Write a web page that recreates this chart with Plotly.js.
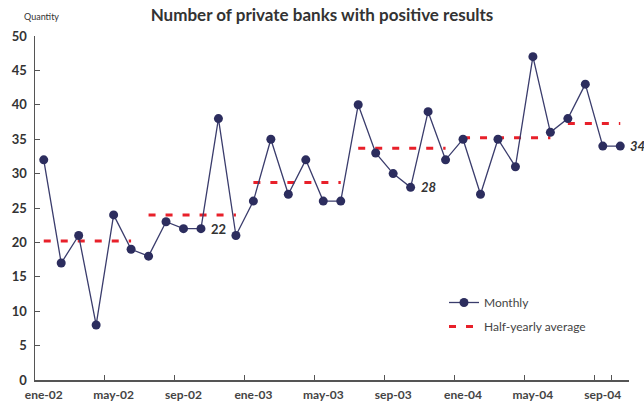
<!DOCTYPE html>
<html>
<head>
<meta charset="utf-8">
<script src="https://cdn.plot.ly/plotly-3.0.1.min.js"></script>
<style>html,body{margin:0;padding:0;background:#fff;}#chart{width:644px;height:407px;}</style>
</head>
<body>
<div id="chart"></div>
<script>
// Data
const months = ["ene-02","feb-02","mar-02","abr-02","may-02","jun-02","jul-02","ago-02","sep-02","oct-02","nov-02","dic-02",
                "ene-03","feb-03","mar-03","abr-03","may-03","jun-03","jul-03","ago-03","sep-03","oct-03","nov-03","dic-03",
                "ene-04","feb-04","mar-04","abr-04","may-04","jun-04","jul-04","ago-04","sep-04","oct-04"];
const monthly = [32,17,21,8,24,19,18,23,22,22,38,21,
                 26,35,27,32,26,26,40,33,30,28,39,32,
                 35,27,35,31,47,36,38,43,34,34];
const halfStart = ["ene-02","jul-02","ene-03","jul-03","ene-04","jul-04"];
const halfEnd   = ["jun-02","dic-02","jun-03","dic-03","jun-04","oct-04"];
const halfAvg   = [20.2, 24.0, 28.7, 33.7, 35.2, 37.3];
const tickLabels = ["ene-02","may-02","sep-02","ene-03","may-03","sep-03","ene-04","may-04","sep-04"];
const labelPoints = ["oct-02","oct-03","oct-04"];
const labelTexts = ["22","28","34"];

const font = "Lato, 'Open Sans', sans-serif";
const navy = "#2c2d5e";
const red = "#e8202a";

const traces = [];
halfAvg.forEach((v, i) => {
  traces.push({
    x: [halfStart[i], halfEnd[i]], y: [v, v],
    type: "scatter", mode: "lines",
    line: {color: red, width: 3, dash: "7px,10px"},
    name: "Half-yearly average", legendgroup: "avg", legendrank: 2,
    showlegend: i === 0, hoverinfo: "skip"
  });
});
traces.push({
  x: months, y: monthly, type: "scatter", mode: "lines+markers",
  line: {color: "#3a3c6c", width: 1.3},
  marker: {color: navy, size: 9},
  name: "Monthly", legendgroup: "m", legendrank: 1
});

const annotations = labelPoints.map((p, i) => ({
  x: p, y: monthly[months.indexOf(p)], xref: "x", yref: "y",
  text: labelTexts[i], showarrow: false, xanchor: "left", yanchor: "middle", xshift: 8,
  font: {family: font, size: 13, color: "#333", weight: "bold", style: i === 0 ? "normal" : "italic"}
}));
annotations.push({
  text: "Quantity", xref: "paper", yref: "paper", x: 6/594, y: (380-17)/344,
  xanchor: "center", yanchor: "middle", showarrow: false,
  font: {family: font, size: 9, color: "#333"}
});

const layout = {
  width: 644, height: 407,
  margin: {l: 35, r: 15, t: 36, b: 27},
  paper_bgcolor: "#fff", plot_bgcolor: "#fff",
  title: {text: "Number of private banks with positive results", x: 0.5, xref: "container", xanchor: "center",
          y: 1 - 15/407, yref: "container", yanchor: "middle",
          font: {family: font, size: 17, color: "#333", weight: "bold"}},
  xaxis: {type: "category", categoryorder: "array", categoryarray: months,
          range: [-0.5, months.length - 0.5], tickmode: "array", tickvals: tickLabels, ticktext: tickLabels,
          tickson: "boundaries", ticks: "inside", ticklen: 5, tickcolor: "#555", tickwidth: 1,
          showline: true, linecolor: "#555", linewidth: 1.5, showgrid: false, zeroline: false,
          tickangle: 0, automargin: false,
          tickfont: {family: font, size: 12, color: "#444", weight: "bold"}, ticklabelstandoff: 3},
  yaxis: {range: [0, 50], dtick: 5, tick0: 0, ticks: "inside", ticklen: 5, tickcolor: "#555",
          showline: true, linecolor: "#555", linewidth: 1.5, showgrid: false, zeroline: false,
          tickfont: {family: font, size: 13, color: "#333", weight: "bold"}, ticklabelstandoff: 4},
  showlegend: true,
  legend: {x: (444-35)/594, y: (380-288)/344, xanchor: "left", yanchor: "top", traceorder: "grouped",
           tracegroupgap: 5, bgcolor: "rgba(0,0,0,0)", font: {family: font, size: 12, color: "#444"}},
  annotations: annotations
};

Plotly.newPlot("chart", traces, layout, {displayModeBar: false, staticPlot: true});
</script>
</body>
</html>
